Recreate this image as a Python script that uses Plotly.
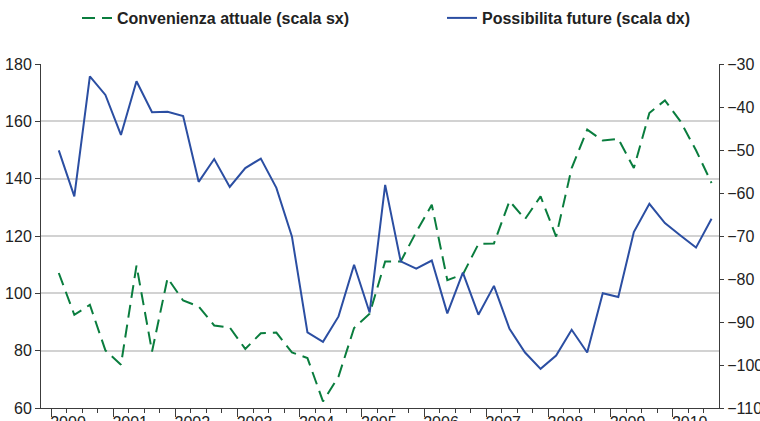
import plotly.graph_objects as go

# Quarterly observations, 2000Q1 .. 2010Q3
years = list(range(2000, 2011))
quarters = [y + (q - 0.5) / 4 for y in years for q in range(1, 5)][:43]

convenienza = [107.1, 92.5, 96.0, 80.1, 75.1, 109.7, 79.7, 105.3, 97.5, 95.4,
               88.8, 88.1, 80.6, 86.1, 86.3, 79.4, 77.4, 62.3, 71.0, 87.9,
               92.9, 111.1, 111.1, 121.4, 130.9, 104.6, 106.6, 117.2, 117.4, 132.2,
               125.9, 133.8, 119.8, 143.7, 157.1, 153.3, 153.9, 143.7, 162.9, 167.3,
               160.0, 149.9, 138.5]

possibilita = [-50.1, -60.8, -32.9, -37.2, -46.5, -34.0, -41.2, -41.1, -42.1, -57.4,
               -52.1, -58.6, -54.2, -52.0, -58.8, -70.1, -92.4, -94.6, -88.7, -76.7,
               -87.8, -58.1, -75.9, -77.6, -75.7, -88.0, -78.5, -88.3, -81.6, -91.6,
               -97.1, -100.9, -97.8, -91.8, -97.1, -83.3, -84.2, -69.1, -62.5, -67.0,
               -69.9, -72.7, -66.0]

name_sx = "Convenienza attuale (scala sx)"
name_dx = "Possibilita future (scala dx)"
tick_labels = [str(y) for y in years]

GREEN = "#0a7d3e"
BLUE = "#2b4ea2"
AXIS = "#3c3c3c"
TXT = "#222222"

fig = go.Figure()
fig.add_trace(go.Scatter(
    x=quarters, y=convenienza, name=name_sx, mode="lines",
    line=dict(color=GREEN, width=2, dash="13px,7px"),
    yaxis="y", legend="legend"))
fig.add_trace(go.Scatter(
    x=quarters, y=possibilita, name=name_dx, mode="lines",
    line=dict(color=BLUE, width=2),
    yaxis="y2", legend="legend2"))

L, R, T, B = 41, 41, 64, 13
W, H = 760, 421

legend_font = dict(family="Liberation Sans, Arial, sans-serif",
                   size=16, color=TXT, weight="bold")

fig.update_layout(
    width=W, height=H,
    margin=dict(l=L, r=R, t=T, b=B, autoexpand=False),
    paper_bgcolor="white", plot_bgcolor="white",
    font=dict(family="Liberation Sans, Arial, sans-serif", size=16, color=TXT),
    showlegend=True,
    legend=dict(orientation="h", xref="container", yref="container",
                x=77 / W, y=1 - 18 / H, xanchor="left", yanchor="middle",
                font=legend_font, bgcolor="rgba(0,0,0,0)"),
    legend2=dict(orientation="h", xref="container", yref="container",
                 x=442 / W, y=1 - 18 / H, xanchor="left", yanchor="middle",
                 font=legend_font, bgcolor="rgba(0,0,0,0)"),
    xaxis=dict(
        range=[1999.839, 2010.745], automargin=False,
        tickmode="array", tickvals=years, ticktext=tick_labels,
        ticks="outside", ticklen=8, tickwidth=1, tickcolor=AXIS,
        ticklabelshift=17, ticklabelstandoff=-8,
        showline=True, linecolor=AXIS, linewidth=1,
        showgrid=False, zeroline=False,
        minor=dict(tick0=2000, dtick=0.25, ticks="outside", ticklen=4,
                   tickcolor=AXIS, showgrid=False),
    ),
    yaxis=dict(
        range=[60, 180], dtick=20, tick0=60, automargin=False,
        ticks="outside", ticklen=5, tickcolor=AXIS,
        showline=True, linecolor=AXIS, linewidth=1,
        showgrid=True, gridcolor="#d2d2d2", gridwidth=1.6, zeroline=False,
    ),
    yaxis2=dict(
        range=[-110, -30], dtick=10, tick0=-110, automargin=False,
        overlaying="y", side="right",
        ticks="outside", ticklen=4, tickcolor=AXIS,
        showline=True, linecolor=AXIS, linewidth=1,
        showgrid=False, zeroline=False,
    ),
)

fig.write_html("out.html", config={"displayModeBar": False},
               post_script="document.body.style.margin='0px';")
